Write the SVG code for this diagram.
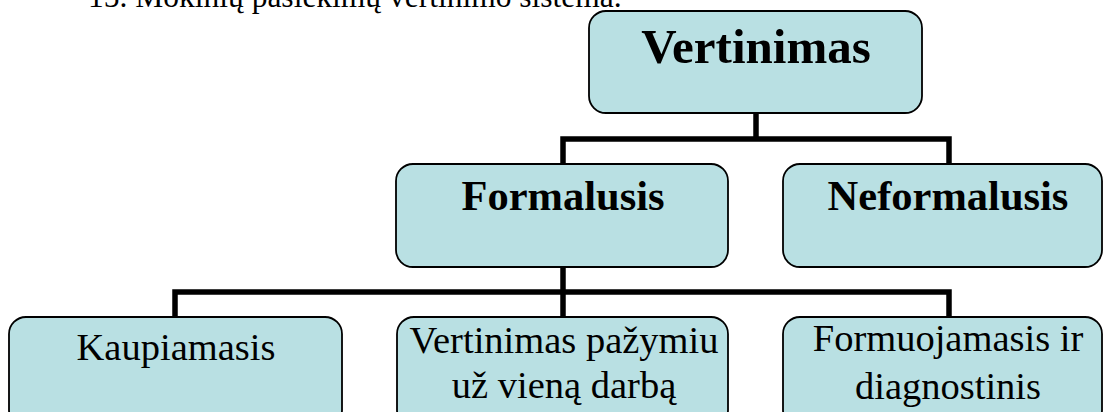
<svg xmlns="http://www.w3.org/2000/svg" width="1103" height="412" viewBox="0 0 1103 412">
  <style>
    .box { fill: #b9e0e3; stroke: #000; stroke-width: 1.8; }
    .conn { fill: none; stroke: #000; stroke-width: 5.5; stroke-linejoin: miter; stroke-linecap: butt; }
    .t { font-family: "Liberation Serif", "Times New Roman", serif; fill: #000; text-anchor: middle; }
    .b1 { font-weight: bold; font-size: 49px; }
    .b2 { font-weight: bold; font-size: 42.5px; }
    .r { font-size: 38.5px; }
    .title { font-family: "Liberation Serif", "Times New Roman", serif; font-size: 31.5px; fill: #000; }
  </style>
  <rect width="1103" height="412" fill="#fff"/>
  <text class="title" x="88" y="7">15. Mokinių pasiekimų vertinimo sistema.</text>
  <g id="connectors">
    <path class="conn" d="M756,113 V139"/>
    <path class="conn" d="M563,164 V139 H949 V164"/>
    <path class="conn" d="M563,267 V317"/>
    <path class="conn" d="M175,317 V292 H949 V317"/>
  </g>
  <g id="vertinimas">
    <rect class="box" x="589" y="11" width="333" height="102" rx="17"/>
    <text class="t b1" x="756" y="63">Vertinimas</text>
  </g>
  <g id="formalusis">
    <rect class="box" x="396" y="164" width="332" height="103" rx="17"/>
    <text class="t b2" x="563" y="210">Formalusis</text>
  </g>
  <g id="neformalusis">
    <rect class="box" x="783" y="164" width="319" height="103" rx="17"/>
    <text class="t b2" x="948" y="210">Neformalusis</text>
  </g>
  <g id="kaupiamasis">
    <rect class="box" x="9" y="317" width="333" height="110" rx="17"/>
    <text class="t r" x="176" y="360">Kaupiamasis</text>
  </g>
  <g id="pazymiu">
    <rect class="box" x="397" y="317" width="331" height="110" rx="17"/>
    <text class="t r" x="564" y="353">Vertinimas pažymiu</text>
    <text class="t r" x="564" y="398">už vieną darbą</text>
  </g>
  <g id="formuojamasis">
    <rect class="box" x="783" y="317" width="319" height="110" rx="17"/>
    <text class="t r" x="948" y="351">Formuojamasis ir</text>
    <text class="t r" x="948" y="399">diagnostinis</text>
  </g>
</svg>
